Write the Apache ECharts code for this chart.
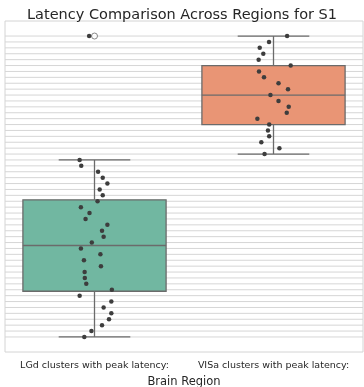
<!DOCTYPE html>
<html>
<head>
<meta charset="utf-8">
<script src="https://cdn.jsdelivr.net/npm/echarts@6/dist/echarts.min.js"></script>
<style>html,body{margin:0;padding:0;background:#fff}#c{width:364px;height:387px}</style>
</head>
<body>
<div id="c"></div>
<script>
// ---- data ----
var categories = ['LGd clusters with peak latency:', 'VISa clusters with peak latency:'];
// latency rank rows (ordered categorical latency values)
var lgdValues = [30,29,28,27,26,25,24,23,22,21,20,19,18,17,16,15,14,13,12,11,10,9,8,7,6,5,4,3,2,1,0,51];
var lgdJitter = [-0.083,-0.074,0.020,0.046,0.072,0.029,0.046,0.017,-0.076,-0.028,-0.050,0.072,0.042,0.051,-0.015,-0.076,0.033,-0.059,0.036,-0.055,-0.054,-0.046,0.097,-0.083,0.094,0.051,0.094,0.081,0.042,-0.017,-0.057,-0.030];
var visaValues = [51,50,49,48,47,46,45,44,43,42,41,40,39,38,37,36,35,34,33,32,31];
var visaJitter = [0.076,-0.025,-0.077,-0.057,-0.083,0.096,-0.081,-0.053,0.028,0.081,-0.017,0.028,0.085,0.074,-0.090,-0.024,-0.031,-0.024,-0.068,0.033,-0.050];
var boxColors = ['#71b7a1', '#e99575'];

// ---- stats ----
function quantile(sorted, p) {
  var pos = (sorted.length - 1) * p, lo = Math.floor(pos), hi = Math.ceil(pos);
  return sorted[lo] + (sorted[hi] - sorted[lo]) * (pos - lo);
}
function boxStats(vals) {
  var s = vals.slice().sort(function(a,b){return a-b;});
  var q1 = quantile(s, 0.25), med = quantile(s, 0.5), q3 = quantile(s, 0.75);
  var iqr = q3 - q1, lo = q1 - 1.5*iqr, hi = q3 + 1.5*iqr;
  var inside = s.filter(function(v){return v>=lo && v<=hi;});
  var out = s.filter(function(v){return v<lo || v>hi;});
  return {min: inside[0], q1: q1, med: med, q3: q3, max: inside[inside.length-1], out: out};
}
var groups = [lgdValues, visaValues];
var jitters = [lgdJitter, visaJitter];
var stats = groups.map(boxStats);
var boxData = stats.map(function(s, i){ return [i, s.min, s.q1, s.med, s.q3, s.max]; });
var outliers = [];
stats.forEach(function(s, i){ s.out.forEach(function(v){ outliers.push([i, v]); }); });
var stripData = [];
groups.forEach(function(g, i){ g.forEach(function(v, k){ stripData.push([i + jitters[i][k], v]); }); });

var allVals = lgdValues.concat(visaValues);
var vMin = Math.min.apply(null, allVals), vMax = Math.max.apply(null, allVals);
var gridRows = [];
for (var r = vMin; r <= vMax; r++) gridRows.push([0, r]);

var chart = echarts.init(document.getElementById('c'));
var edge = '#6b6b6b';
chart.setOption({
  animation: false,
  backgroundColor: '#ffffff',
  title: {
    text: 'Latency Comparison Across Regions for S1',
    left: 'center', top: 3,
    textStyle: {fontFamily: 'DejaVu Sans', fontSize: 14.5, fontWeight: 'normal', color: '#262626'}
  },
  grid: {left: 5, right: 1, top: 21, bottom: 35, show: true, borderColor: '#d4d4d4', borderWidth: 1,
    containLabel: false, outerBoundsMode: 'none'},
  xAxis: [{
    type: 'category', data: categories,
    axisLine: {show: false}, axisTick: {show: false},
    axisLabel: {fontFamily: 'DejaVu Sans', fontSize: 9.5, color: '#262626', margin: 9, interval: 0},
    name: 'Brain Region', nameLocation: 'middle', nameGap: 23,
    nameTextStyle: {fontFamily: 'DejaVu Sans', fontSize: 11.5, color: '#262626'}
  }, {
    type: 'value', min: -0.5, max: 1.5, show: false
  }],
  yAxis: {
    type: 'value', min: vMin - 2.55, max: vMax + 2.55,
    axisLine: {show: false}, axisTick: {show: false}, axisLabel: {show: false}, splitLine: {show: false}
  },
  series: [{
    type: 'custom', z: 1, silent: true, data: gridRows,
    renderItem: function(params, api) {
      var cs = params.coordSys;
      var y = api.coord([0, api.value(1)])[1];
      return {type: 'line', shape: {x1: cs.x, y1: y, x2: cs.x + cs.width, y2: y},
        style: {stroke: '#d6d6d6', lineWidth: 1}};
    }
  }, {
    type: 'custom', z: 2, data: boxData,
    renderItem: function(params, api) {
      var i = api.value(0);
      var band = api.size([1, 0])[0];
      var bw = band * 0.8, cw = bw / 2;
      var pMin = api.coord([i, api.value(1)]), pQ1 = api.coord([i, api.value(2)]),
          pMed = api.coord([i, api.value(3)]), pQ3 = api.coord([i, api.value(4)]),
          pMax = api.coord([i, api.value(5)]);
      var cx = pMed[0];
      var ls = {stroke: edge, lineWidth: 1.3};
      return {type: 'group', children: [
        {type: 'line', shape: {x1: cx, y1: pQ3[1], x2: cx, y2: pMax[1]}, style: ls},
        {type: 'line', shape: {x1: cx, y1: pQ1[1], x2: cx, y2: pMin[1]}, style: ls},
        {type: 'line', shape: {x1: cx - cw/2, y1: pMax[1], x2: cx + cw/2, y2: pMax[1]}, style: ls},
        {type: 'line', shape: {x1: cx - cw/2, y1: pMin[1], x2: cx + cw/2, y2: pMin[1]}, style: ls},
        {type: 'rect', shape: {x: cx - bw/2, y: pQ3[1], width: bw, height: pQ1[1] - pQ3[1]},
          style: {fill: boxColors[i], stroke: edge, lineWidth: 1.3}},
        {type: 'line', shape: {x1: cx - bw/2, y1: pMed[1], x2: cx + bw/2, y2: pMed[1]}, style: ls}
      ]};
    }
  }, {
    type: 'scatter', z: 3, data: outliers, symbol: 'circle', symbolSize: 6,
    itemStyle: {color: '#ffffff', borderColor: edge, borderWidth: 1}
  }, {
    type: 'scatter', z: 4, xAxisIndex: 1, data: stripData, symbol: 'circle', symbolSize: 4.5,
    itemStyle: {color: '#3d3d3d', opacity: 1}
  }]
});
</script>
</body>
</html>
